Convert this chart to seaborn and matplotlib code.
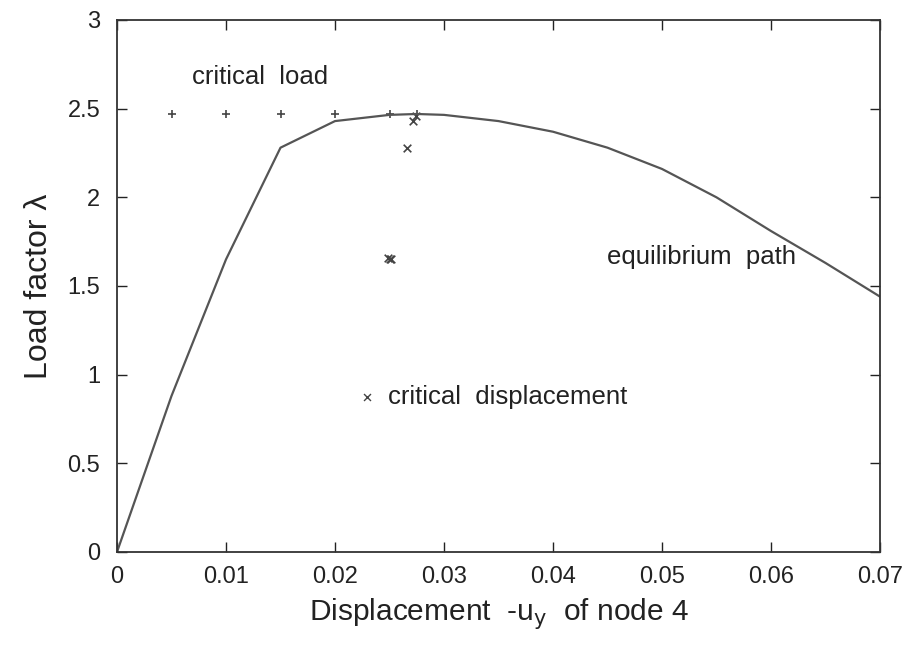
import matplotlib
matplotlib.use("Agg")
import matplotlib.pyplot as plt
import seaborn as sns
import pandas as pd

# equilibrium path
path_x = [0, 0.005, 0.01, 0.015, 0.02, 0.025, 0.0275, 0.03, 0.035, 0.04,
          0.045, 0.05, 0.055, 0.06, 0.065, 0.07]
path_lam = [0, 0.88, 1.65, 2.28, 2.43, 2.465, 2.47, 2.465, 2.43, 2.37,
            2.28, 2.16, 2.0, 1.81, 1.63, 1.44]

# critical load points
cl_x = [0.005, 0.01, 0.015, 0.02, 0.025, 0.0275]
cl_lam = [2.47, 2.47, 2.47, 2.47, 2.47, 2.47]

# critical displacement points
cd_x = [0.025, 0.0249, 0.0251, 0.0266, 0.0272, 0.0274]
cd_lam = [1.65, 1.66, 1.655, 2.28, 2.43, 2.46]

x_ticks = [0, 0.01, 0.02, 0.03, 0.04, 0.05, 0.06, 0.07]
x_tick_labels = ["0", "0.01", "0.02", "0.03", "0.04", "0.05", "0.06", "0.07"]
y_ticks = [0, 0.5, 1, 1.5, 2, 2.5, 3]
y_tick_labels = ["0", "0.5", "1", "1.5", "2", "2.5", "3"]

sns.set_style("ticks")
plt.rcParams['font.family'] = ['Liberation Sans', 'DejaVu Sans']

fig = plt.figure(figsize=(9.09, 6.52), dpi=100)
ax = fig.add_axes([117/909, 1 - 552/652, (880-117)/909, (552-20)/652])

df_path = pd.DataFrame({"x": path_x, "lam": path_lam})
df_cl = pd.DataFrame({"x": cl_x, "lam": cl_lam})
df_cd = pd.DataFrame({"x": cd_x, "lam": cd_lam})

sns.lineplot(data=df_path, x="x", y="lam", ax=ax, color="#555555", lw=1.6,
             sort=False, estimator=None)
sns.scatterplot(data=df_cl, x="x", y="lam", ax=ax, marker="+", s=40,
                color="#444444", linewidth=1.2)
sns.scatterplot(data=df_cd, x="x", y="lam", ax=ax, marker="x", s=30,
                color="#444444", linewidth=1.2)

ax.set_xlim(0, 0.07)
ax.set_ylim(0, 3)
ax.set_xticks(x_ticks)
ax.set_xticklabels(x_tick_labels)
ax.set_yticks(y_ticks)
ax.set_yticklabels(y_tick_labels)
ax.tick_params(direction="in", length=7, width=1, top=True, right=True,
               labelsize=17, colors="#222222")
ax.tick_params(axis="x", pad=10)
ax.tick_params(axis="y", pad=12)
for s in ax.spines.values():
    s.set_color("#333333")
    s.set_linewidth(1.3)

ax.set_xlabel(r"Displacement  -u$_\mathrm{y}$  of node 4", fontsize=21.5,
              color="#222222", labelpad=6)
ax.set_ylabel("Load factor λ", fontsize=23, color="#222222", labelpad=10)

ax.text(0.00688, 2.68, "critical  load", fontsize=18.5, color="#222222", va="center")
ax.text(0.04495, 1.664, "equilibrium  path", fontsize=18.5, color="#222222", va="center")
ax.scatter([0.02294], [0.874], marker="x", s=25, color="#444444", linewidths=1.0)
ax.text(0.02486, 0.874, "critical  displacement", fontsize=18.5, color="#222222", va="center")

fig.savefig("out.png", dpi=100)
